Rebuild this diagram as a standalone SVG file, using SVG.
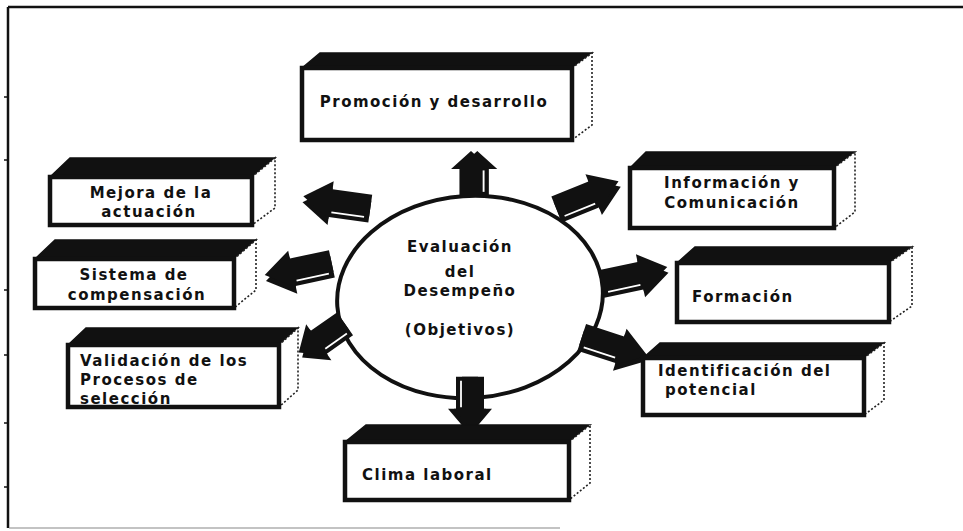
<svg xmlns="http://www.w3.org/2000/svg" xmlns:xlink="http://www.w3.org/1999/xlink" width="963" height="531" viewBox="0 0 963 531">
<style>
.front{fill:#fff;stroke:#111;stroke-width:4.5;stroke-linejoin:miter}
.top{fill:#111;stroke:#111;stroke-width:1.5}
.side{fill:#fff;stroke:#222;stroke-width:1.6;stroke-dasharray:2 2}
.t{font-family:"DejaVu Sans","Liberation Sans",sans-serif;font-weight:bold;font-size:15px;letter-spacing:1.5px;fill:#111}
.c{text-anchor:middle}
.frame{stroke:#111;fill:none}
</style>
<defs>
<g id="arr">
<path d="M-34,-11 L6,-11 L6,-19 L34,0 L6,19 L6,11 L-34,11 Z" transform="translate(0,6)" fill="#111"/>
<path d="M-34,-11 L6,-11 L6,-19 L34,0 L6,19 L6,11 L-34,11 Z" fill="#111"/>
<path d="M-29,12 L4,12" stroke="#fff" stroke-width="1.8"/>
</g>
</defs>
<rect width="963" height="531" fill="#fff"/>
<g id="frame">
<path class="frame" d="M8,7 L963,7" stroke-width="2.5"/>
<path class="frame" d="M8,7 L8,528" stroke-width="2.5"/>
<path d="M9,528 L560,528" stroke="#888" stroke-width="1.2"/>
<path d="M4,97 L8,97 M4,160 L8,160 M4,290 L8,290 M4,355 L8,355 M4,423 L8,423 M4,487 L8,487" stroke="#111" stroke-width="1.5"/>
</g>
<g id="center">
<ellipse cx="470" cy="297" rx="133" ry="101" transform="rotate(-4 470 297)" fill="none" stroke="#111" stroke-width="4"/>
<text class="t c" x="460" y="252">Evaluación</text>
<text class="t c" x="460" y="277">del</text>
<text class="t c" x="460" y="296">Desempeño</text>
<text class="t c" x="460" y="335">(Objetivos)</text>
</g>
<g id="connectors">
<use xlink:href="#arr" href="#arr" transform="translate(471,173) rotate(-90) scale(0.65,1.05)"/>
<use xlink:href="#arr" href="#arr" transform="translate(587,194) rotate(-22)"/>
<use xlink:href="#arr" href="#arr" transform="translate(634,274) rotate(-12)"/>
<use xlink:href="#arr" href="#arr" transform="translate(615,345) rotate(18)"/>
<use xlink:href="#arr" href="#arr" transform="translate(473,404) rotate(90) scale(0.8,1.0)"/>
<use xlink:href="#arr" href="#arr" transform="translate(321,337) rotate(-35) scale(-0.8,1)"/>
<use xlink:href="#arr" href="#arr" transform="translate(298,268) rotate(-12) scale(-1,1)"/>
<use xlink:href="#arr" href="#arr" transform="translate(337,201) rotate(8) scale(-1,1)"/>
</g>
<g id="promocion">
<polygon class="top" points="302,68 320,53 592,53 572,68"/>
<polygon class="side" points="572,68 592,53 592,125 572,140"/>
<rect class="front" x="302" y="68" width="270" height="72"/>
<text class="t c" x="434" y="107">Promoción y desarrollo</text>
</g>
<g id="mejora">
<polygon class="top" points="50,177 70,158 275,158 252,177"/>
<polygon class="side" points="252,177 275,158 275,208 252,225"/>
<rect class="front" x="50" y="177" width="202" height="48"/>
<text class="t c" x="151" y="198">Mejora de la</text>
<text class="t c" x="149" y="217">actuación</text>
</g>
<g id="sistema">
<polygon class="top" points="35,259 55,240 256,240 234,259"/>
<polygon class="side" points="234,259 256,240 256,290 234,308"/>
<rect class="front" x="35" y="259" width="199" height="49"/>
<text class="t c" x="134" y="280">Sistema de</text>
<text class="t c" x="137" y="300">compensación</text>
</g>
<g id="validacion">
<polygon class="top" points="68,345 86,328 298,328 279,345"/>
<polygon class="side" points="279,345 298,328 298,390 279,407"/>
<rect class="front" x="68" y="345" width="211" height="62"/>
<text class="t" x="80" y="366">Validación de los</text>
<text class="t" x="80" y="385">Procesos de</text>
<text class="t" x="80" y="404">selección</text>
</g>
<g id="informacion">
<polygon class="top" points="630,168 646,152 855,152 834,168"/>
<polygon class="side" points="834,168 855,152 855,212 834,228"/>
<rect class="front" x="630" y="168" width="204" height="60"/>
<text class="t c" x="732" y="188">Información y</text>
<text class="t c" x="732" y="208">Comunicación</text>
</g>
<g id="formacion">
<polygon class="top" points="677,263 695,247 912,247 889,263"/>
<polygon class="side" points="889,263 912,247 912,306 889,322"/>
<rect class="front" x="677" y="263" width="212" height="59"/>
<text class="t" x="692" y="302">Formación</text>
</g>
<g id="identificacion">
<polygon class="top" points="643,358 660,343 884,343 864,358"/>
<polygon class="side" points="864,358 884,343 884,400 864,415"/>
<rect class="front" x="643" y="358" width="221" height="57"/>
<text class="t" x="658" y="376">Identificación del</text>
<text class="t" x="665" y="395">potencial</text>
</g>
<g id="clima">
<polygon class="top" points="345,442 366,425 590,425 569,442"/>
<polygon class="side" points="569,442 590,425 590,483 569,500"/>
<rect class="front" x="345" y="442" width="224" height="58"/>
<text class="t" x="362" y="480">Clima laboral</text>
</g>
</svg>
